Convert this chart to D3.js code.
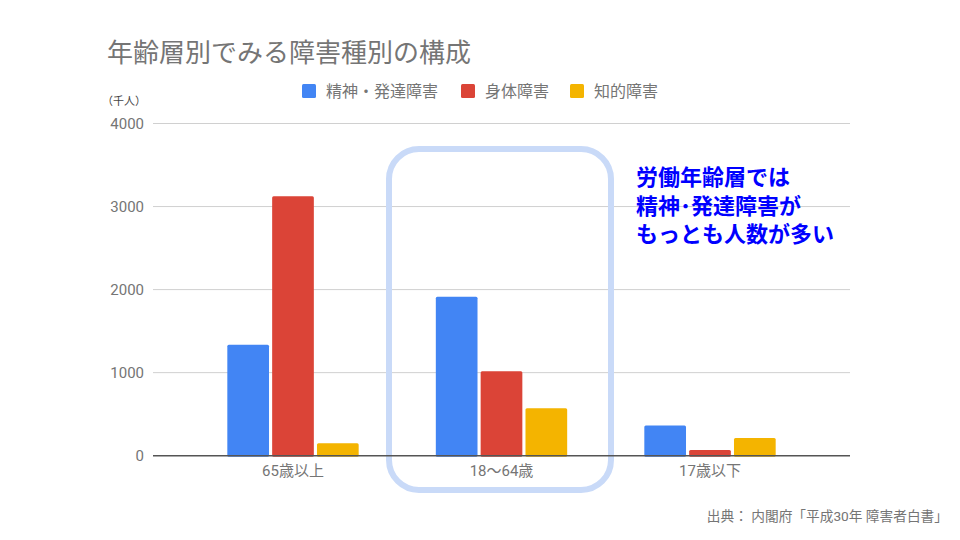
<!DOCTYPE html>
<html>
<head>
<meta charset="utf-8">
<script src="https://cdn.jsdelivr.net/npm/d3@7"></script>
<style>
  body { margin: 0; background: #fff; }
  svg { display: block; font-family: Roboto, "Noto Sans CJK JP", sans-serif; }
</style>
</head>
<body>
<div id="chart"></div>
<script>
const categories = ["65歳以上", "18〜64歳", "17歳以下"];
const seriesNames = ["精神・発達障害", "身体障害", "知的障害"];
const mental = [1335, 1915, 365];
const physical = [3125, 1017, 69];
const intellectual = [149, 571, 213];
const yTicks = [0, 1000, 2000, 3000, 4000];
const colors = ["#4285f4", "#db4437", "#f4b400"];

const values = [mental, physical, intellectual];
const data = categories.map((c, i) => ({
  cat: c,
  vals: seriesNames.map((s, j) => ({ s, v: values[j][i], color: colors[j] }))
}));

const svg = d3.select("#chart").append("svg")
  .attr("width", 960).attr("height", 540);

const x0 = d3.scaleBand()
  .domain(categories)
  .range([188.75, 814.25])
  .paddingInner(0.37)
  .paddingOuter(0.185);

const x1 = d3.scaleBand()
  .domain(seriesNames)
  .range([0, x0.bandwidth()])
  .paddingInner(0.07);

const y = d3.scaleLinear().domain([0, 4000]).range([455.7, 123.5]);

// gridlines
svg.append("g")
  .selectAll("line")
  .data(yTicks.filter(t => t > 0))
  .join("line")
  .attr("x1", 153).attr("x2", 850)
  .attr("y1", d => y(d)).attr("y2", d => y(d))
  .attr("stroke", "#d0d0d0").attr("stroke-width", 1);

// y labels
svg.append("g")
  .selectAll("text")
  .data(yTicks)
  .join("text")
  .attr("x", 144)
  .attr("y", d => y(d))
  .attr("dy", "0.36em")
  .attr("text-anchor", "end")
  .style("font-size", "15px")
  .attr("fill", "#757575")
  .text(d => d);

// highlight box around working age
const hl = "18〜64歳";
const boxCx = x0(hl) + x0.bandwidth() / 2 - 1.5;
svg.append("rect")
  .attr("x", boxCx - 111)
  .attr("y", 149)
  .attr("width", 222)
  .attr("height", 341)
  .attr("rx", 30)
  .attr("fill", "none")
  .attr("stroke", "#c9daf8")
  .attr("stroke-width", 6);

// bars
const groups = svg.append("g")
  .selectAll("g")
  .data(data)
  .join("g")
  .attr("transform", d => `translate(${x0(d.cat)},0)`);

groups.selectAll("rect")
  .data(d => d.vals)
  .join("rect")
  .attr("x", d => x1(d.s))
  .attr("y", d => y(d.v))
  .attr("width", x1.bandwidth())
  .attr("height", d => y(0) - y(d.v) + 1)
  .attr("rx", 1.5)
  .attr("fill", d => d.color);

// baseline
svg.append("line")
  .attr("x1", 153).attr("x2", 850)
  .attr("y1", y(0)).attr("y2", y(0))
  .attr("stroke", "#555").attr("stroke-width", 1.5);

// x labels
svg.append("g")
  .selectAll("text")
  .data(categories)
  .join("text")
  .attr("x", d => x0(d) + x0.bandwidth() / 2)
  .attr("y", 476)
  .attr("text-anchor", "middle")
  .style("font-size", "15px")
  .attr("fill", "#757575")
  .text(d => d);

// title
svg.append("text")
  .attr("x", 107).attr("y", 62)
  .style("font-size", "26px")
  .attr("fill", "#757575")
  .text("年齢層別でみる障害種別の構成");

// unit
svg.append("text")
  .attr("x", 102).attr("y", 105)
  .style("font-size", "11px")
  .attr("fill", "#444")
  .text("（千人）");

// legend
const legendX = [302, 461, 570];
const legend = svg.append("g")
  .selectAll("g")
  .data(seriesNames)
  .join("g")
  .attr("transform", (d, i) => `translate(${legendX[i]},84)`);
legend.append("rect")
  .attr("width", 14).attr("height", 14).attr("rx", 1.5)
  .attr("fill", (d, i) => colors[i]);
legend.append("text")
  .attr("x", 24).attr("y", 7).attr("dy", "0.36em")
  .style("font-size", "16px")
  .attr("fill", "#757575")
  .text(d => d);

// annotation
const note = ["労働年齢層では", "精神･発達障害が", "もっとも人数が多い"];
svg.append("g")
  .selectAll("text")
  .data(note)
  .join("text")
  .attr("x", 636)
  .attr("y", (d, i) => 185 + i * 28.5)
  .style("font-size", "22px")
  .style("font-weight", "bold")
  .attr("fill", "#0000ff")
  .text(d => d);

// source
svg.append("text")
  .attr("x", 948).attr("y", 521)
  .attr("text-anchor", "end")
  .style("font-size", "13.7px")
  .attr("fill", "#757575")
  .text("出典： 内閣府「平成30年 障害者白書」");
</script>
</body>
</html>
